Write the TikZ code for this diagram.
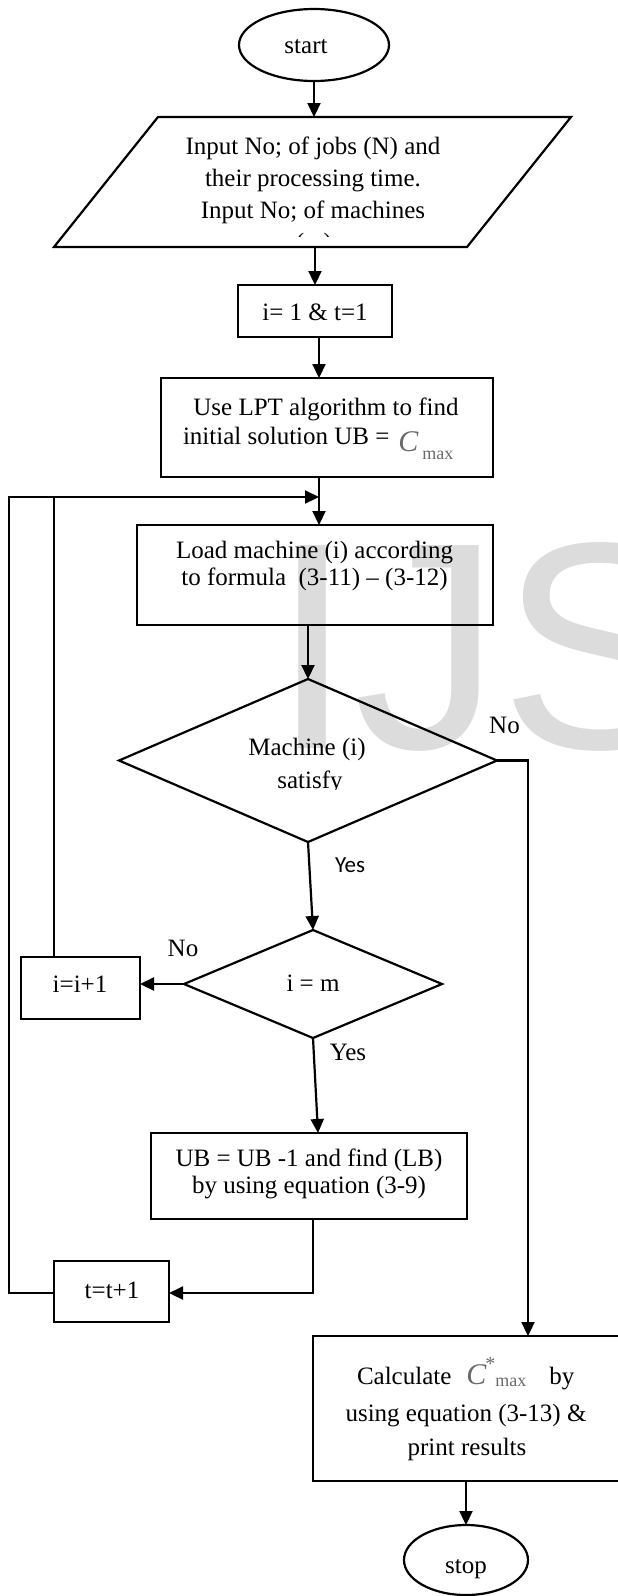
\documentclass[tikz,border=0pt]{standalone}
\usepackage{fontspec}
\setmainfont{Liberation Serif}
\usetikzlibrary{arrows.meta,shapes.geometric}
\newfontfamily\carlitofont{Carlito}
\newfontfamily\wmfont{Liberation Sans}
\newfontfamily\timesfont{Liberation Serif}
\definecolor{wmgray}{RGB}{220,220,220}
\definecolor{eqgray}{RGB}{105,105,105}
\newcommand\bigC{{\timesfont\itshape\fontsize{30}{30}\selectfont\color{eqgray}C}}
\newcommand\maxsub{{\timesfont\fontsize{18}{18}\selectfont\color{eqgray}max}}
\begin{document}
\begin{tikzpicture}[x=1pt,y=-1pt,
  every node/.style={inner sep=0pt,outer sep=0pt},
  box/.style={draw,line width=2.2pt,rectangle},
  term/.style={draw,line width=2.2pt,ellipse},
  dec/.style={draw,line width=2.2pt,diamond},
  lbl/.style={anchor=base,font=\fontsize{25}{28}\selectfont},
  lblw/.style={anchor=base west,font=\fontsize{25}{28}\selectfont},
  con/.style={line width=2.2pt},
  arr/.style={con,-{Triangle[length=14pt,width=13pt]}}]
\useasboundingbox (0,0) rectangle (618,1596);
% watermark
\node[anchor=base west,text=wmgray,font=\wmfont\fontsize{295}{295}\selectfont] (wmk) at (271,748) {IJS};
% shapes
\node[term,minimum width=150pt,minimum height=72pt] (start) at (314,45) {};
\draw[line width=2.2pt] (158,117) -- (571,117) -- (467,247) -- (54,247) -- cycle;
\node[minimum width=300pt,minimum height=130pt] (inp) at (313,182) {};
\node[box,minimum width=154pt,minimum height=52pt] (i1) at (315,311) {};
\node[box,minimum width=332pt,minimum height=99pt] (lpt) at (327,427.5) {};
\node[box,minimum width=356pt,minimum height=100pt] (load) at (315,575) {};
\node[dec,minimum width=378pt,minimum height=163pt] (d1) at (308,760.5) {};
\node[dec,minimum width=258pt,minimum height=108pt] (d2) at (313,984) {};
\node[box,minimum width=119pt,minimum height=62pt] (ibox) at (80.5,988) {};
\node[box,minimum width=316pt,minimum height=86pt] (ub) at (309,1176) {};
\node[box,minimum width=115pt,minimum height=61pt] (tbox) at (111.5,1291.5) {};
\node[box,minimum width=308pt,minimum height=145pt] (calc) at (467,1408.5) {};
\node[term,minimum width=124pt,minimum height=70pt] (stop) at (466,1560) {};
% texts
\node[lbl] (tstart) at (306,53) {start};
\node[lbl] (tin1) at (313,154) {Input No; of jobs (N) and};
\node[lbl] (tin2) at (313,186) {their processing time.};
\node[lbl] (tin3) at (313,218) {Input No; of machines};
\begin{scope}
\clip (0,0) rectangle (618,236);
\node[lbl] (tin4) at (314,250) {(m)};
\end{scope}
\node[lbl] (ti1) at (315,320) {i= 1 \& t=1};
\node[lbl] (tlpt1) at (326,415) {Use LPT algorithm to find};
\node[lblw] (tlpt2) at (183,444) {initial solution UB =\hspace{9pt}\raisebox{-7pt}{\bigC}\hspace{4pt}\raisebox{-15pt}{\maxsub}};
\node[lbl] (tload1) at (314.5,558) {Load machine (i) according};
\node[lbl] (tload2) at (314.5,585) {to formula\ \ (3-11) – (3-12)};
\node[lbl] (td1a) at (307,755) {Machine (i)};
\begin{scope}
\clip (100,700) rectangle (520,789);
\node[lbl] (td1b) at (310,788) {satisfy};
\end{scope}
\node[lbl] (tno1) at (504.5,733) {No};
\node[anchor=base,font=\carlitofont\fontsize{23}{28}\selectfont] (tyes1) at (350,872) {Yes};
\node[lbl] (td2) at (313,991) {i = m};
\node[lbl] (tno2) at (183,956) {No};
\node[lbl] (tibox) at (80,992) {i=i+1};
\node[lbl] (tyes2) at (348,1060) {Yes};
\node[lbl] (tub1) at (309,1166) {UB = UB -1 and find (LB)};
\node[lbl] (tub2) at (309,1193) {by using equation (3-9)};
\node[lbl] (ttbox) at (112,1298) {t=t+1};
\node[lblw] (tcalc1) at (357,1384) {Calculate\hspace{15pt}\bigC\hspace{-1pt}\raisebox{14pt}{\timesfont\fontsize{20}{20}\selectfont\color{eqgray}*}\raisebox{-2pt}{\maxsub}\hspace{23pt}by};
\node[lbl] (tcalc2) at (466,1421) {using equation (3-13) \&};
\node[lbl] (tcalc3) at (467,1455) {print results};
\node[lbl] (tstop) at (466,1573) {stop};
% connectors
\coordinate (lt) at (9,497);
\coordinate (mrg) at (319,497);
\coordinate (ix) at (54,497);
\coordinate (rx) at (528,760.5);
\coordinate (ub2) at (313,1293);
\draw[arr] (start.south) -- (start.south |- inp.north);
\draw[arr] (inp.south -| i1.north) -- (i1.north);
\draw[arr] ([xshift=4pt]i1.south) -- ([xshift=4pt]i1.south |- lpt.north);
\draw[arr] (lpt.south -| mrg) -- (mrg |- load.north);
\draw[arr] (tbox.west |- ub2) -| (lt) -- (mrg);
\draw[con] (ix |- ibox.north) -- (ix);
\draw[arr] (load.south -| d1.north) -- (d1.north);
\draw[arr] (d1.south) -- (d2.north);
\draw[arr] (d1.east) -- (rx) -- (rx |- calc.north);
\draw[arr] (d2.west) -- (d2.west -| ibox.east);
\draw[arr] (d2.south) -- ([xshift=5pt]d2.south |- ub.north);
\draw[arr] (ub.south -| ub2) -- (ub2) -- (ub2 -| tbox.east);
\draw[arr] (calc.south -| stop.north) -- (stop.north);
\end{tikzpicture}
\end{document}
